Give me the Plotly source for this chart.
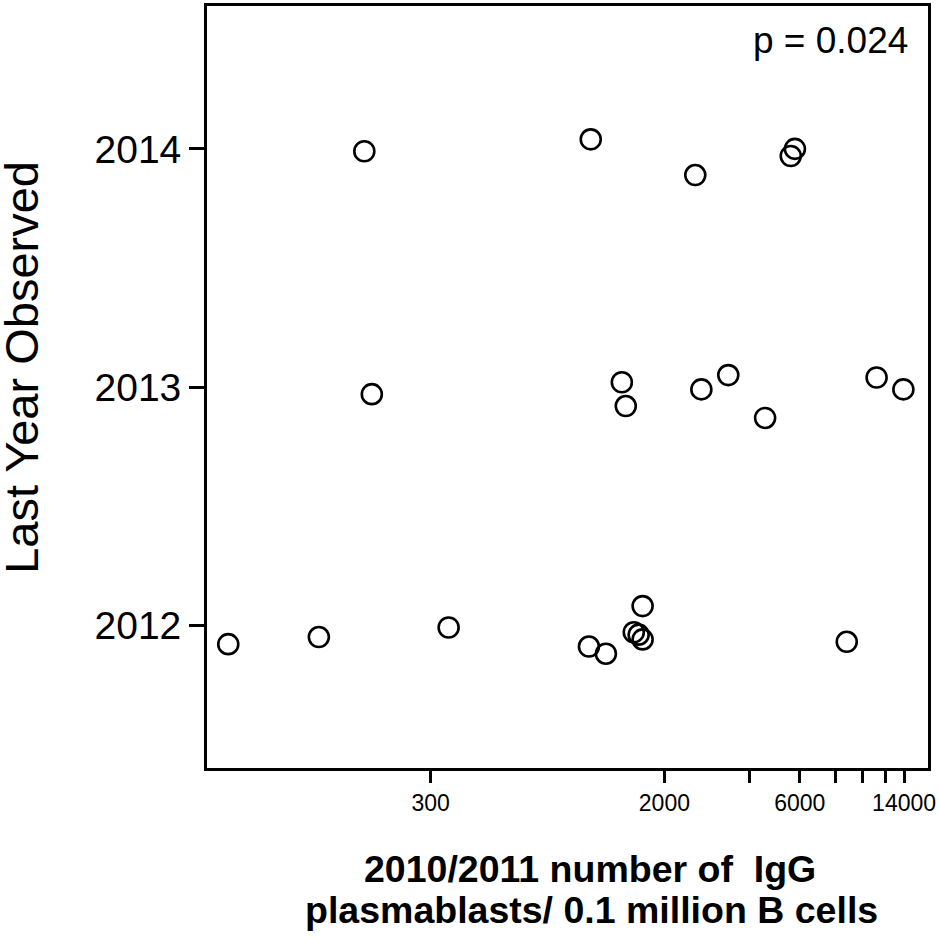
import plotly.graph_objects as go
import math

# Data
plasmablasts = [175, 1100, 2570, 5580, 5770,
                186, 1416, 1462, 2700, 3360, 4530, 11200, 13920,
                58, 121, 347, 1084, 1244, 1560, 1623, 1676, 1676, 8790]
last_year = [2013.99, 2014.04, 2013.89, 2013.97, 2014.0,
             2012.97, 2013.02, 2012.92, 2012.99, 2013.05, 2012.87, 2013.04, 2012.99,
             2011.92, 2011.95, 2011.99, 2011.91, 2011.88, 2011.97, 2011.96, 2011.94, 2012.08, 2011.93]

x_tickvals = [300, 2000, 4000, 6000, 8000, 10000, 12000, 14000]
x_ticktext = ["300", "2000", "", "6000", "", "", "", "14000"]
y_tickvals = [2012, 2013, 2014]
y_ticktext = ["2012", "2013", "2014"]

FONT = "Liberation Sans, Arial, sans-serif"

fig = go.Figure()
fig.add_trace(go.Scatter(
    x=plasmablasts, y=last_year, mode="markers",
    marker=dict(symbol="circle-open", size=20, color="black",
                line=dict(color="black", width=2.6)),
    showlegend=False, hoverinfo="x+y",
))

fig.update_layout(
    width=939, height=938,
    margin=dict(l=207, r=6, t=3, b=170),
    paper_bgcolor="white", plot_bgcolor="white",
    font=dict(family=FONT, color="black"),
    xaxis=dict(
        type="log", range=[math.log10(48.8), math.log10(17000)],
        tickvals=x_tickvals, ticktext=x_ticktext,
        ticks="outside", ticklen=12, tickwidth=2.5, tickcolor="black",
        showline=True, linewidth=2.8, linecolor="black", mirror=True,
        showgrid=False, zeroline=False, ticklabeloverflow="allow",
        tickfont=dict(size=23, family=FONT, color="black"),
    ),
    yaxis=dict(
        range=[2011.4, 2014.6],
        tickvals=y_tickvals, ticktext=y_ticktext,
        ticks="outside", ticklen=15, tickwidth=2.5, tickcolor="black",
        showline=True, linewidth=2.8, linecolor="black", mirror=True,
        showgrid=False, zeroline=False,
        tickfont=dict(size=39, family=FONT, color="black"),
    ),
    annotations=[
        dict(text="p = 0.024", xref="paper", yref="paper",
             x=(915 - 207) / 726, y=1 - (38 - 3) / 765,
             xanchor="right", yanchor="middle", showarrow=False,
             font=dict(size=37, family=FONT, color="black")),
        dict(text="Last Year Observed", xref="paper", yref="paper",
             x=(20 - 207) / 726, y=1 - (366 - 3) / 765,
             xanchor="center", yanchor="middle", textangle=-90, showarrow=False,
             font=dict(size=47, family=FONT, color="black")),
        dict(text="<b>2010/2011 number of  IgG</b>", xref="paper", yref="paper",
             x=(593 - 207) / 726, y=1 - (869 - 3) / 765,
             xanchor="center", yanchor="middle", showarrow=False,
             font=dict(size=37.5, family=FONT, color="black")),
        dict(text="<b>plasmablasts/ 0.1 million B cells</b>", xref="paper", yref="paper",
             x=(594 - 207) / 726, y=1 - (911 - 3) / 765,
             xanchor="center", yanchor="middle", showarrow=False,
             font=dict(size=37.5, family=FONT, color="black")),
    ],
)

fig.write_html("out.html")
